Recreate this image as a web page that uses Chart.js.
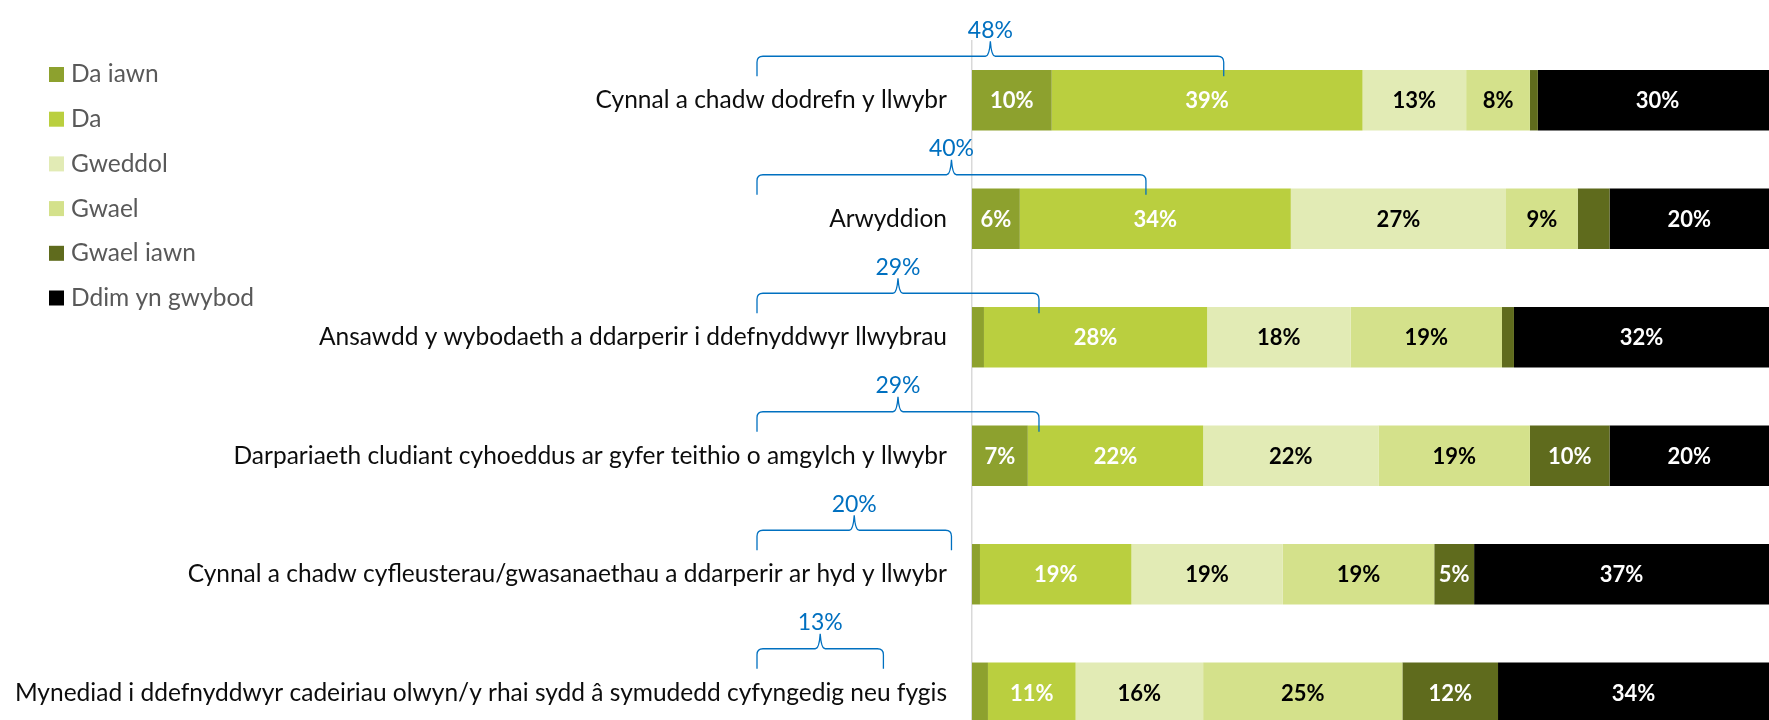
<!DOCTYPE html>
<html>
<head>
<meta charset="utf-8">
<script src="https://cdn.jsdelivr.net/npm/chart.js@4.4.1/dist/chart.umd.min.js"></script>
<style>
  html, body { margin: 0; padding: 0; background: #fff; overflow: hidden; }
  #wrap { position: relative; width: 1769px; height: 720px; overflow: hidden; }
  #myChart { display: block; width: 1769px; height: 752px; }
</style>
</head>
<body>
<div id="wrap"><canvas id="myChart" width="1769" height="752"></canvas></div>
<script>
const categories = [
  'Cynnal a chadw dodrefn y llwybr',
  'Arwyddion',
  'Ansawdd y wybodaeth a ddarperir i ddefnyddwyr llwybrau',
  'Darpariaeth cludiant cyhoeddus ar gyfer teithio o amgylch y llwybr',
  'Cynnal a chadw cyfleusterau/gwasanaethau a ddarperir ar hyd y llwybr',
  'Mynediad i ddefnyddwyr cadeiriau olwyn/y rhai sydd \u00e2 symudedd cyfyngedig neu fygis',
];
const seriesNames = ['Da iawn', 'Da', 'Gweddol', 'Gwael', 'Gwael iawn', 'Ddim yn gwybod'];
const daIawn = [10, 6, 1.5, 7, 1, 2];
const da = [39, 34, 28, 22, 19, 11];
const gweddol = [13, 27, 18, 22, 19, 16];
const gwael = [8, 9, 19, 19, 19, 25];
const gwaelIawn = [1, 4, 1.5, 10, 5, 12];
const ddimYnGwybod = [30, 20, 32, 20, 37, 34];
// "Da iawn" + "Da" totals shown above each bar
const positiveTotals = [48, 40, 29, 29, 20, 13];

const FONT = 'Lato, "Open Sans", sans-serif';
const BLUE = '#0070C0';

const seriesColors = ['#8DA12E', '#BACF3F', '#E2EBB5', '#D4E18B', '#5F6B1D', '#000000'];
const labelColors = ['#fff', '#fff', '#000', '#000', '#fff', '#fff'];
const allSeries = [daIawn, da, gweddol, gwael, gwaelIawn, ddimYnGwybod];

// value labels inside the segments
const barLabels = {
  id: 'barLabels',
  afterDatasetsDraw(chart) {
    const ctx = chart.ctx;
    const area = chart.chartArea;
    ctx.save();
    ctx.beginPath();
    ctx.rect(area.left, area.top, area.right - area.left, area.bottom - area.top);
    ctx.clip();
    ctx.font = 'bold 22px ' + FONT;
    ctx.textAlign = 'center';
    ctx.textBaseline = 'middle';
    chart.data.datasets.forEach((ds, i) => {
      const meta = chart.getDatasetMeta(i);
      meta.data.forEach((el, j) => {
        const v = ds.data[j];
        if (v < 5) return;
        const p = el.getProps(['x', 'base', 'y'], true);
        ctx.fillStyle = ds.labelColor;
        ctx.fillText(Math.round(v) + '%', (p.x + p.base) / 2, p.y + 1);
      });
    });
    ctx.restore();
  },
};

// blue braces with the "positive" total
const braces = {
  id: 'braces',
  afterDraw(chart) {
    const ctx = chart.ctx;
    const xs = chart.scales.x;
    const ys = chart.scales.y;
    ctx.save();
    ctx.strokeStyle = BLUE;
    ctx.fillStyle = BLUE;
    ctx.lineWidth = 1.3;
    ctx.font = '23px ' + FONT;
    ctx.textAlign = 'center';
    ctx.textBaseline = 'middle';
    positiveTotals.forEach((tot, i) => {
      const yc = ys.getPixelForValue(i);
      const w = (xs.getPixelForValue(tot) - xs.getPixelForValue(0)) * 1.22;
      const x0 = chart.chartArea.left - 215;
      const x1 = x0 + w;
      const xm = (x0 + x1) / 2;
      const yl = yc - 44;
      ctx.beginPath();
      ctx.moveTo(x0, yc - 24);
      ctx.lineTo(x0, yl + 6);
      ctx.quadraticCurveTo(x0, yl, x0 + 6, yl);
      ctx.lineTo(xm - 5, yl);
      ctx.quadraticCurveTo(xm - 1, yl, xm, yl - 15);
      ctx.quadraticCurveTo(xm + 1, yl, xm + 5, yl);
      ctx.lineTo(x1 - 6, yl);
      ctx.quadraticCurveTo(x1, yl, x1, yl + 6);
      ctx.lineTo(x1, yc - 24);
      ctx.stroke();
      ctx.fillText(tot + '%', xm, yc - 70);
    });
    ctx.restore();
  },
};

// legend drawn at the top left, over the label column
const sideLegend = {
  id: 'sideLegend',
  afterDraw(chart) {
    const ctx = chart.ctx;
    ctx.save();
    ctx.font = '24.5px ' + FONT;
    ctx.textBaseline = 'middle';
    ctx.textAlign = 'left';
    chart.data.datasets.forEach((ds, k) => {
      const y = 74.5 + k * 44.7;
      ctx.fillStyle = ds.backgroundColor;
      ctx.fillRect(49, y - 7.5, 15, 15);
      ctx.fillStyle = '#595959';
      ctx.fillText(ds.label, 71, y);
    });
    ctx.restore();
  },
};

new Chart(document.getElementById('myChart'), {
  type: 'bar',
  data: {
    labels: categories,
    datasets: seriesNames.map((name, i) => ({
      label: name,
      data: allSeries[i],
      backgroundColor: seriesColors[i],
      labelColor: labelColors[i],
      borderWidth: 0,
      barPercentage: 0.51,
      categoryPercentage: 1,
    })),
  },
  options: {
    indexAxis: 'y',
    responsive: false,
    animation: false,
    layout: { padding: { top: 41, left: 0, right: 0, bottom: 0 } },
    plugins: {
      legend: { display: false },
      tooltip: { enabled: false },
    },
    scales: {
      x: { stacked: true, min: 0, max: 100, display: false },
      y: {
        stacked: true,
        grid: { display: false, drawTicks: false },
        border: { display: true, color: '#d9d9d9', width: 1.5 },
        ticks: {
          autoSkip: false,
          padding: 25,
          color: '#0d0d0d',
          font: { family: FONT, size: 24.5 },
        },
        afterFit(scale) {
          scale.width = 972;
          // labels sit inside the bands, no extra room needed above/below
          scale.paddingTop = 0;
          scale.paddingBottom = 0;
        },
      },
    },
  },
  plugins: [barLabels, braces, sideLegend],
});
</script>
</body>
</html>
